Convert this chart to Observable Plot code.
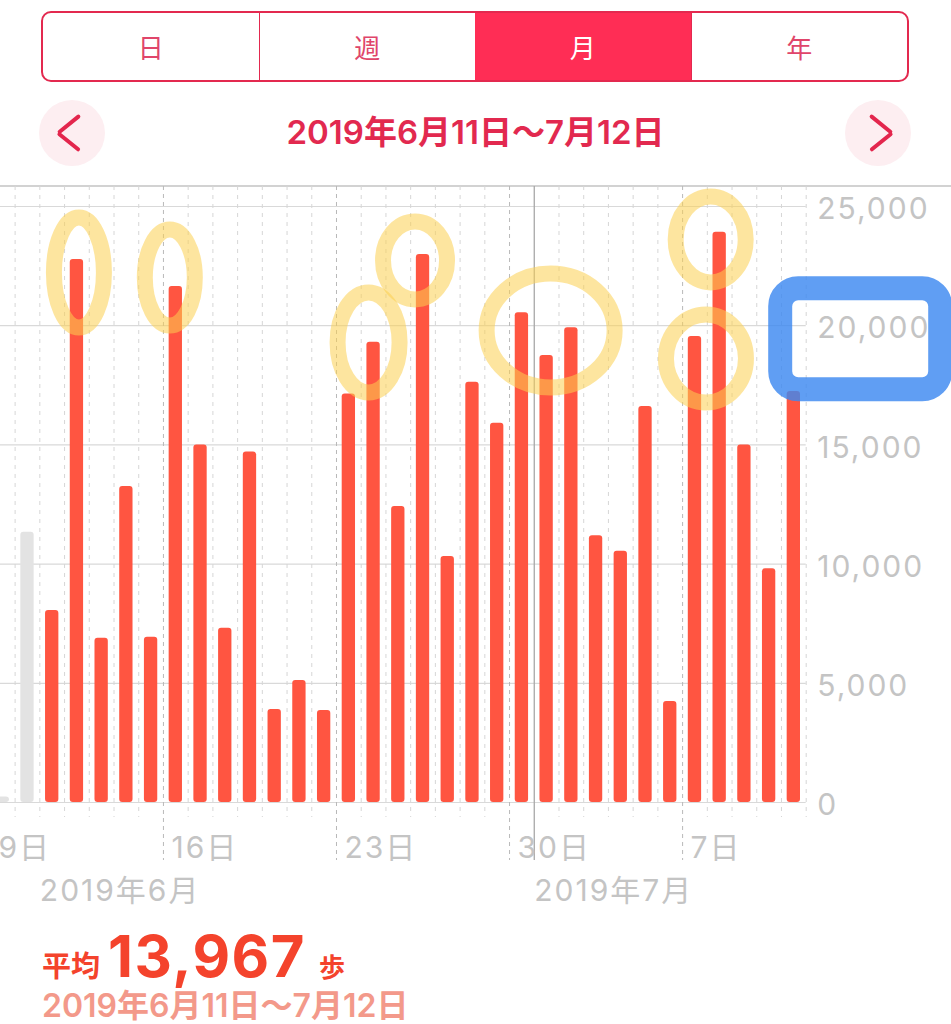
<!DOCTYPE html>
<html><head><meta charset="utf-8">
<script src="https://cdn.jsdelivr.net/npm/d3@7"></script>
<script src="https://cdn.jsdelivr.net/npm/@observablehq/plot@0.6"></script>
<style>
body{margin:0;background:#fff;}
#page{position:relative;width:951px;height:1024px;overflow:hidden;font-family:Inter,"Noto Sans CJK JP",sans-serif;background:#fff;}
.seg{position:absolute;left:41px;top:11px;width:868px;height:71px;box-sizing:border-box;border:2px solid #e3294f;border-radius:10px;display:flex;overflow:hidden;}
.seg div{flex:1;display:flex;align-items:center;justify-content:center;font-family:"Noto Sans CJK JP",sans-serif;font-size:26px;color:#e0456a;border-left:1.5px solid #e3294f;}
.seg div:first-child{border-left:none;}
.seg div.on{background:#ff2d55;color:#fff;border-left:none;}
.circ{position:absolute;top:100px;width:66px;height:66px;border-radius:50%;background:#fdeef1;}
.chev{position:absolute;width:28px;height:3.6px;background:#e3264d;border-radius:2px;top:31.2px;}
.title{position:absolute;top:116px;left:0;width:951px;text-align:center;font-size:33px;font-weight:600;color:#e2294f;line-height:1;}
.topline{position:absolute;top:185px;left:0;width:951px;height:1.5px;background:#d2d2d2;}
#chart{position:absolute;top:186px;left:0;}
#chart svg text{letter-spacing:2px;}
.avg{position:absolute;left:42px;top:927px;display:flex;align-items:baseline;white-space:nowrap;color:#f4432c;font-weight:700;line-height:1;}
.range{position:absolute;left:42px;top:989px;font-size:32px;font-weight:600;color:#f3998a;line-height:1.05;white-space:nowrap;}
</style></head><body>
<div id="page">
  <div class="seg"><div>日</div><div>週</div><div class="on">月</div><div>年</div></div>
  <div class="circ" style="left:39px">
    <div class="chev" style="left:19px;transform-origin:0 50%;transform:rotate(-39deg);"></div>
    <div class="chev" style="left:19px;transform-origin:0 50%;transform:rotate(39deg);"></div>
  </div>
  <div class="circ" style="left:845px">
    <div class="chev" style="left:19px;transform-origin:100% 50%;transform:rotate(39deg);"></div>
    <div class="chev" style="left:19px;transform-origin:100% 50%;transform:rotate(-39deg);"></div>
  </div>
  <div class="title">2019年6月11日～7月12日</div>
  <div class="topline"></div>
  <div id="chart"></div>
  <div class="avg"><span style="font-size:29px;margin-right:8px">平均</span><span style="font-size:58px;letter-spacing:1.5px">13,967</span><span style="font-size:26px;margin-left:13px">歩</span></div>
  <div class="range">2019年6月11日～7月12日</div>
</div>
<script>
// ---- data ----
const rangeStart = "2019-06-11";
const steps = [8050, 22780, 6890, 13260, 6930, 21640, 15000, 7310, 14700, 3900, 5120, 3860,
  17140, 19310, 12420, 22990, 10320, 17630, 15910, 20540, 18750, 19910, 11190, 10540,
  16610, 4240, 19550, 23920, 15000, 9800, 17240];
const prevDays = ["2019-06-09", "2019-06-10"];
const prevSteps = [230, 11340];
const viewStart = "2019-06-09";
const viewEnd = "2019-07-12";
const yTicks = [0, 5000, 10000, 15000, 20000, 25000];
const weekStarts = ["2019-06-09", "2019-06-16", "2019-06-23", "2019-06-30", "2019-07-07"];
const monthStarts = ["2019-07-01"];
const monthLabelDates = ["2019-06-11", "2019-07-01"];
const monthLabelTexts = ["2019年6月", "2019年7月"];
const highlightDates = ["2019-06-12", "2019-06-16", "2019-06-24", "2019-06-26", "2019-07-01", "2019-07-08", "2019-07-07"];
const highlightSteps = [22230, 22020, 19300, 22740, 19800, 23620, 18620];
const markedTick = 20000;

// ---- annotation shapes (style only) ----
const hlShape = [
  {rx: 25, ry: 55, dx: 2}, {rx: 25, ry: 48, dx: -6}, {rx: 31, ry: 50, dx: -5},
  {rx: 32, ry: 39, dx: -8}, {rx: 64, ry: 57, dx: 4}, {rx: 35, ry: 43, dx: -9},
  {rx: 40, ry: 44, dx: 11}
];

const parse = d3.utcParse("%Y-%m-%d");
const start = parse(rangeStart);
const stepData = steps.map((v, i) => {
  const date = d3.utcDay.offset(start, i);
  return {date, next: d3.utcDay.offset(date, 1), steps: v};
});
const prevData = prevDays.map((d, i) => ({date: parse(d), next: d3.utcDay.offset(parse(d), 1), steps: prevSteps[i]}));
const weeks = weekStarts.map(parse);
const months = monthStarts.map(parse);
const special = new Set([...weeks, ...months].map(d => +d));
const dayBounds = d3.utcDay.range(parse(viewStart), d3.utcDay.offset(parse(viewEnd), 1)).filter(d => !special.has(+d));
const monthLabels = monthLabelDates.map((d, i) => ({date: parse(d), text: monthLabelTexts[i]}));
const highlights = highlightDates.map((d, i) => ({date: d3.utcHour.offset(parse(d), 12), steps: highlightSteps[i]}));

function ellipse(rx, ry) {
  const k = 0.5523;
  return {draw(c) {
    c.moveTo(rx, 0);
    c.bezierCurveTo(rx, ry * k, rx * k, ry, 0, ry);
    c.bezierCurveTo(-rx * k, ry, -rx, ry * k, -rx, 0);
    c.bezierCurveTo(-rx, -ry * k, -rx * k, -ry, 0, -ry);
    c.bezierCurveTo(rx * k, -ry, rx, -ry * k, rx, 0);
    c.closePath();
  }};
}
function roundRect(w, h, r) {
  return {draw(c) {
    const x0 = -w / 2, y0 = -h / 2, x1 = w / 2, y1 = h / 2;
    c.moveTo(x0 + r, y0);
    c.lineTo(x1 - r, y0); c.arcTo(x1, y0, x1, y0 + r, r);
    c.lineTo(x1, y1 - r); c.arcTo(x1, y1, x1 - r, y1, r);
    c.lineTo(x0 + r, y1); c.arcTo(x0, y1, x0, y1 - r, r);
    c.lineTo(x0, y0 + r); c.arcTo(x0, y0, x0 + r, y0, r);
    c.closePath();
  }};
}

const font = 'Inter, "Noto Sans CJK JP", sans-serif';
const gray = "#c4c4c4";

const chart = Plot.plot({
  width: 951,
  height: 740,
  marginTop: 20,
  marginBottom: 124,
  marginLeft: 0,
  marginRight: 145.3,
  x: {type: "utc", domain: [parse(viewStart), parse(viewEnd)], range: [-10.1, 805.7], axis: null},
  y: {domain: [0, 25000], axis: null},
  style: {fontFamily: font, overflow: "visible", background: "transparent"},
  marks: [
    Plot.ruleY(yTicks, {y: d => d, stroke: "#d9d9d9", strokeWidth: 1.2}),
    Plot.ruleX(dayBounds, {x: d => d, stroke: "#d6d6d6", strokeDasharray: "4,5", insetTop: -20, insetBottom: -15}),
    Plot.ruleX(weeks, {x: d => d, stroke: "#b9b9b9", strokeDasharray: "4,4", insetTop: -20, insetBottom: -58}),
    Plot.ruleX(months, {x: d => d, stroke: "#a8a8a8", strokeWidth: 1.3, insetTop: -20, insetBottom: -58}),
    Plot.rectY(prevData, {x1: "date", x2: "next", y: "steps", insetLeft: 5.7, insetRight: 5.7, fill: "#e3e3e3", rx: 3}),
    Plot.rectY(stepData, {x1: "date", x2: "next", y: "steps", insetLeft: 5.7, insetRight: 5.7, fill: "#ff5541", rx: 3}),
    ...highlights.map((h, i) => Plot.dot([h], {
      x: "date", y: "steps", dx: hlShape[i].dx, symbol: ellipse(hlShape[i].rx, hlShape[i].ry),
      stroke: "#fbd050", strokeOpacity: 0.55, strokeWidth: 16, fill: "none"
    })),
    Plot.text(yTicks, {y: d => d, text: d => d3.format(",")(d), frameAnchor: "right", textAnchor: "start",
      dx: 11, dy: 3, fontSize: 30, fill: gray}),
    Plot.text(weeks, {x: d => d, text: d => `${d.getUTCDate()}日`, frameAnchor: "bottom", textAnchor: "start",
      lineAnchor: "top", dx: 8, dy: 34, fontSize: 30, fill: gray}),
    Plot.text(monthLabels, {x: "date", text: "text", frameAnchor: "bottom", textAnchor: "start",
      lineAnchor: "top", dx: 0, dy: 77, fontSize: 30, fill: gray}),
    Plot.dot([markedTick], {y: d => d, frameAnchor: "right", dx: 54, dy: 13, symbol: roundRect(160, 101, 18),
      stroke: "#3d89f0", strokeOpacity: 0.82, strokeWidth: 24, fill: "none"})
  ]
});
document.getElementById("chart").appendChild(chart);
</script>
</body></html>
